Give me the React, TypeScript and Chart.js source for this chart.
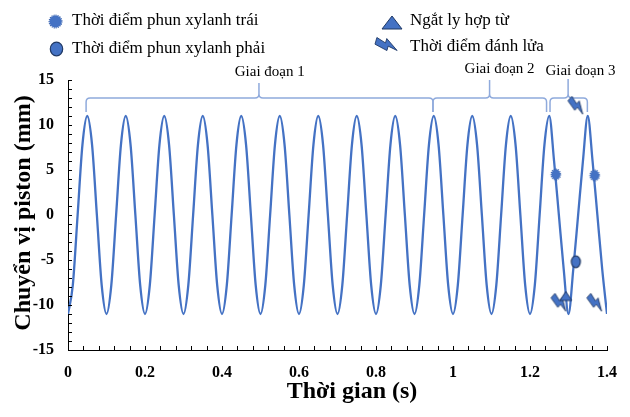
import { useEffect, useRef } from "react";
import { Chart, registerables } from "chart.js";

Chart.register(...registerables);

// ---------- data ----------
const timeS = [
  0, 0.0125, 0.025, 0.0375, 0.05, 0.0625, 0.075, 0.0875,
  0.1, 0.1125, 0.125, 0.1375, 0.15, 0.1625, 0.175, 0.1875,
  0.2, 0.2125, 0.225, 0.2375, 0.25, 0.2625, 0.275, 0.2875,
  0.3, 0.3125, 0.325, 0.3375, 0.35, 0.3625, 0.375, 0.3875,
  0.4, 0.4125, 0.425, 0.4375, 0.45, 0.4625, 0.475, 0.4875,
  0.5, 0.5125, 0.525, 0.5375, 0.55, 0.5625, 0.575, 0.5875,
  0.6, 0.6125, 0.625, 0.6375, 0.65, 0.6625, 0.675, 0.6875,
  0.7, 0.7125, 0.725, 0.7375, 0.75, 0.7625, 0.775, 0.7875,
  0.8, 0.8125, 0.825, 0.8375, 0.85, 0.8625, 0.875, 0.8875,
  0.9, 0.9125, 0.925, 0.9375, 0.95, 0.9625, 0.975, 0.9875,
  1.0, 1.0125, 1.025, 1.0375, 1.05, 1.0625, 1.075, 1.0875,
  1.1, 1.1125, 1.125, 1.1375, 1.15, 1.1625, 1.175, 1.1875,
  1.2, 1.2125, 1.225, 1.2375, 1.25, 1.2625, 1.275, 1.2875,
  1.3, 1.3125, 1.325, 1.3375, 1.35, 1.3625, 1.375, 1.3875,
  1.4,
];

const displacementMm = [
  -11, -7.8, 0, 7.8, 11, 7.8, 0, -7.8,
  -11, -7.8, 0, 7.8, 11, 7.8, 0, -7.8,
  -11, -7.8, 0, 7.8, 11, 7.8, 0, -7.8,
  -11, -7.8, 0, 7.8, 11, 7.8, 0, -7.8,
  -11, -7.8, 0, 7.8, 11, 7.8, 0, -7.8,
  -11, -7.8, 0, 7.8, 11, 7.8, 0, -7.8,
  -11, -7.8, 0, 7.8, 11, 7.8, 0, -7.8,
  -11, -7.8, 0, 7.8, 11, 7.8, 0, -7.8,
  -11, -7.8, 0, 7.8, 11, 7.8, 0, -7.8,
  -11, -7.8, 0, 7.8, 11, 7.8, 0, -7.8,
  -11, -7.8, 0, 7.8, 11, 7.8, 0, -7.8,
  -11, -7.8, 0, 7.8, 11, 7.8, 0, -7.8,
  -11, -7.8, 0, 7.8, 11, 6, 0, -6,
  -11, -6, 0, 6, 11, 6, 0, -6,
  -11,
];

const leftInjectionT = [1.267, 1.368];
const leftInjectionMm = [4.5, 4.4];
const rightInjectionT = [1.319];
const rightInjectionMm = [-5.2];
const clutchOffT = [1.293];
const clutchOffMm = [-9.0];
const ignitionT = [1.279, 1.323, 1.372];
const ignitionMm = [-9.7, 12.2, -9.7];

const legendLabels = [
  "Thời điểm phun xylanh trái",
  "Thời điểm phun xylanh phải",
  "Ngắt ly hợp từ",
  "Thời điểm đánh lửa",
];

const phaseLabels = ["Giai đoạn 1", "Giai đoạn 2", "Giai đoạn 3"];
const phaseStartS = [0.047, 0.948, 1.252];
const phaseEndS = [0.948, 1.243, 1.349];
const phaseTipS = [0.496, 1.095, 1.299];
const phaseLabelS = [0.524, 1.121, 1.331];

const xAxisTitle = "Thời gian (s)";
const yAxisTitle = "Chuyển vị piston (mm)";
const xMin = 0, xMax = 1.4, xStep = 0.04, xLabelEvery = 0.2;
const yMin = -15, yMax = 15, yStep = 1, yLabelEvery = 5;

// ---------- styles ----------
const BLUE = "#4472C4";
const DARK = "#1F3864";
const BRACE = "#8FAADC";
const SERIF = "'Liberation Serif', 'Times New Roman', serif";

function makeCanvas(w: number, h: number, draw: (ctx: CanvasRenderingContext2D) => void) {
  const c = document.createElement("canvas");
  c.width = w;
  c.height = h;
  const ctx = c.getContext("2d")!;
  draw(ctx);
  return c;
}

function dottedMarker(rx: number, ry: number) {
  const w = Math.ceil(rx * 2 + 4), h = Math.ceil(ry * 2 + 4);
  return makeCanvas(w, h, (ctx) => {
    ctx.fillStyle = BLUE;
    ctx.beginPath();
    ctx.ellipse(w / 2, h / 2, rx - 0.3, ry - 0.3, 0, 0, Math.PI * 2);
    ctx.fill();
    ctx.setLineDash([1.2, 0.9]);
    ctx.lineWidth = 1.1;
    ctx.strokeStyle = "#3A64B0";
    ctx.beginPath();
    ctx.ellipse(w / 2, h / 2, rx, ry, 0, 0, Math.PI * 2);
    ctx.stroke();
  });
}

function solidMarker(rx: number, ry: number) {
  const w = Math.ceil(rx * 2 + 4), h = Math.ceil(ry * 2 + 4);
  return makeCanvas(w, h, (ctx) => {
    ctx.fillStyle = BLUE;
    ctx.strokeStyle = DARK;
    ctx.lineWidth = 1.2;
    ctx.beginPath();
    ctx.ellipse(w / 2, h / 2, rx, ry, 0, 0, Math.PI * 2);
    ctx.fill();
    ctx.stroke();
  });
}

function triangleMarker(tw: number, th: number) {
  const w = Math.ceil(tw + 4), h = Math.ceil(th + 4);
  return makeCanvas(w, h, (ctx) => {
    ctx.fillStyle = BLUE;
    ctx.strokeStyle = DARK;
    ctx.lineWidth = 1;
    ctx.beginPath();
    ctx.moveTo(w / 2 - tw / 2, h / 2 + th / 2);
    ctx.lineTo(w / 2, h / 2 - th / 2);
    ctx.lineTo(w / 2 + tw / 2, h / 2 + th / 2);
    ctx.closePath();
    ctx.fill();
    ctx.stroke();
  });
}

const BOLT: [number, number][] = [
  [-3, -10], [3, -10], [0.5, -1.5], [4.5, -1.5], [-3, 10], [-1.5, 1.5], [-5.5, 1.5],
];

function boltMarker(size: number, scale: number, angleDeg: number) {
  return makeCanvas(size, size, (ctx) => {
    ctx.translate(size / 2, size / 2);
    ctx.rotate((angleDeg * Math.PI) / 180);
    ctx.scale(scale, scale);
    ctx.beginPath();
    BOLT.forEach(([x, y], i) => (i === 0 ? ctx.moveTo(x, y) : ctx.lineTo(x, y)));
    ctx.closePath();
    ctx.fillStyle = BLUE;
    ctx.fill();
    ctx.lineWidth = 0.8 / scale;
    ctx.strokeStyle = DARK;
    ctx.stroke();
  });
}

function pts(xs: number[], ys: number[]) {
  return xs.map((x, i) => ({ x, y: ys[i] }));
}

export default function App() {
  const ref = useRef<HTMLCanvasElement | null>(null);

  useEffect(() => {
    document.body.style.margin = "0";
    const canvas = ref.current!;

    const mDotted = dottedMarker(4.7, 5.4);
    const mSolid = solidMarker(4.5, 5.8);
    const mTri = triangleMarker(12, 9);
    const mBolt = boltMarker(28, 1.0, -48);

    const lgDotted = dottedMarker(6.4, 6.4);
    const lgSolid = solidMarker(6.2, 6.8);
    const lgTri = triangleMarker(20, 13);
    const lgBolt = boltMarker(30, 1.15, -74);

    const bracesPlugin = {
      id: "braces",
      beforeDatasetsDraw(chart: any) {
        const ctx = chart.ctx as CanvasRenderingContext2D;
        const xs = chart.scales.x;
        const yLine = 98, yEnd = 112, r = 4;
        const tips = [83, 80, 79];
        const labelY = [72, 69, 71];
        ctx.save();
        ctx.strokeStyle = BRACE;
        ctx.lineWidth = 1.5;
        phaseLabels.forEach((lab, i) => {
          const a = xs.getPixelForValue(phaseStartS[i]);
          const b = xs.getPixelForValue(phaseEndS[i]);
          const t = xs.getPixelForValue(phaseTipS[i]);
          ctx.beginPath();
          ctx.moveTo(a, yEnd);
          ctx.lineTo(a, yLine + r);
          ctx.quadraticCurveTo(a, yLine, a + r, yLine);
          ctx.lineTo(t - r, yLine);
          ctx.quadraticCurveTo(t, yLine, t, yLine - r);
          ctx.lineTo(t, tips[i]);
          ctx.moveTo(t, yLine - r);
          ctx.quadraticCurveTo(t, yLine, t + r, yLine);
          ctx.lineTo(b - r, yLine);
          ctx.quadraticCurveTo(b, yLine, b, yLine + r);
          ctx.lineTo(b, yEnd);
          ctx.stroke();
          ctx.fillStyle = "#000";
          ctx.font = `15px ${SERIF}`;
          ctx.textAlign = "center";
          ctx.textBaseline = "middle";
          ctx.fillText(lab, xs.getPixelForValue(phaseLabelS[i]), labelY[i]);
        });
        ctx.restore();
      },
    };

    const decorPlugin = {
      id: "decor",
      afterDraw(chart: any) {
        const ctx = chart.ctx as CanvasRenderingContext2D;
        const { left, bottom } = chart.chartArea;
        const xs = chart.scales.x;
        const ys = chart.scales.y;
        ctx.save();
        // inside tick marks
        ctx.strokeStyle = "#000";
        ctx.lineWidth = 1;
        ctx.beginPath();
        xs.ticks.forEach((t: any) => {
          const px = Math.round(xs.getPixelForValue(t.value)) + 0.5;
          ctx.moveTo(px, bottom);
          ctx.lineTo(px, bottom - 4);
        });
        ys.ticks.forEach((t: any) => {
          const py = Math.round(ys.getPixelForValue(t.value)) + 0.5;
          ctx.moveTo(left, py);
          ctx.lineTo(left + 4, py);
        });
        ctx.stroke();

        // axis titles
        ctx.fillStyle = "#000";
        ctx.font = `bold 24px ${SERIF}`;
        ctx.textAlign = "center";
        ctx.textBaseline = "alphabetic";
        ctx.fillText(xAxisTitle, 352, 398);
        ctx.save();
        ctx.translate(30, 213);
        ctx.rotate(-Math.PI / 2);
        ctx.fillText(yAxisTitle, 0, 0);
        ctx.restore();

        // legend
        const items = [
          { img: lgDotted, x: 55.5, y: 21, tx: 72, ty: 21 },
          { img: lgSolid, x: 56, y: 49, tx: 72, ty: 49 },
          { img: lgTri, x: 392, y: 22, tx: 410, ty: 21 },
          { img: lgBolt, x: 387, y: 44, tx: 410, ty: 47 },
        ];
        ctx.font = `17px ${SERIF}`;
        ctx.textAlign = "left";
        ctx.textBaseline = "middle";
        items.forEach((it, i) => {
          ctx.drawImage(it.img, Math.round(it.x - it.img.width / 2), Math.round(it.y - it.img.height / 2));
          ctx.fillText(legendLabels[i], it.tx, it.ty);
        });
        ctx.restore();
      },
    };

    const tickFont = { family: SERIF, size: 16, weight: "bold" as const };

    const chart = new Chart(canvas, {
      type: "line",
      data: {
        datasets: [
          {
            type: "scatter",
            label: legendLabels[0],
            data: pts(leftInjectionT, leftInjectionMm),
            pointStyle: mDotted as any,
            pointRadius: 6,
            clip: false as any,
          },
          {
            type: "scatter",
            label: legendLabels[1],
            data: pts(rightInjectionT, rightInjectionMm),
            pointStyle: mSolid as any,
            pointRadius: 6,
            clip: false as any,
          },
          {
            type: "scatter",
            label: legendLabels[2],
            data: pts(clutchOffT, clutchOffMm),
            pointStyle: mTri as any,
            pointRadius: 6,
            clip: false as any,
          },
          {
            type: "scatter",
            label: legendLabels[3],
            data: pts(ignitionT, ignitionMm),
            pointStyle: mBolt as any,
            pointRadius: 6,
            clip: false as any,
          },
          {
            type: "line",
            label: "Chuyển vị piston",
            data: pts(timeS, displacementMm),
            borderColor: BLUE,
            borderWidth: 2.3,
            pointRadius: 0,
            fill: false,
            cubicInterpolationMode: "monotone",
          },
        ] as any,
      },
      options: {
        responsive: false,
        animation: false,
        layout: { padding: { top: 80, right: 20, left: 0, bottom: 0 } },
        plugins: {
          legend: { display: false },
          tooltip: { enabled: false },
          title: { display: false },
        },
        scales: {
          x: {
            type: "linear",
            min: xMin,
            max: xMax,
            afterFit: (s: any) => {
              s.height = 67;
            },
            grid: { display: false, drawTicks: false },
            border: { display: true, color: "#000", width: 1 },
            ticks: {
              stepSize: xStep,
              autoSkip: false,
              maxRotation: 0,
              minRotation: 0,
              padding: 13,
              color: "#000",
              font: tickFont,
              callback: (v: any) => {
                const k = Number(v) / xLabelEvery;
                return Math.abs(k - Math.round(k)) < 1e-6 ? String(Number(Number(v).toFixed(1))) : "";
              },
            },
          },
          y: {
            type: "linear",
            min: yMin,
            max: yMax,
            afterFit: (s: any) => {
              s.width = 68;
            },
            grid: { display: false, drawTicks: false },
            border: { display: true, color: "#000", width: 1 },
            ticks: {
              stepSize: yStep,
              autoSkip: false,
              padding: 14,
              color: "#000",
              font: tickFont,
              callback: (v: any) => {
                const n = Math.round(Number(v));
                return n % yLabelEvery === 0 ? String(n) : "";
              },
            },
          },
        },
      },
      plugins: [bracesPlugin, decorPlugin],
    });

    return () => chart.destroy();
  }, []);

  return (
    <div style={{ width: 630, height: 417 }}>
      <canvas ref={ref} width={630} height={417} style={{ display: "block", width: 630, height: 417 }} />
    </div>
  );
}
